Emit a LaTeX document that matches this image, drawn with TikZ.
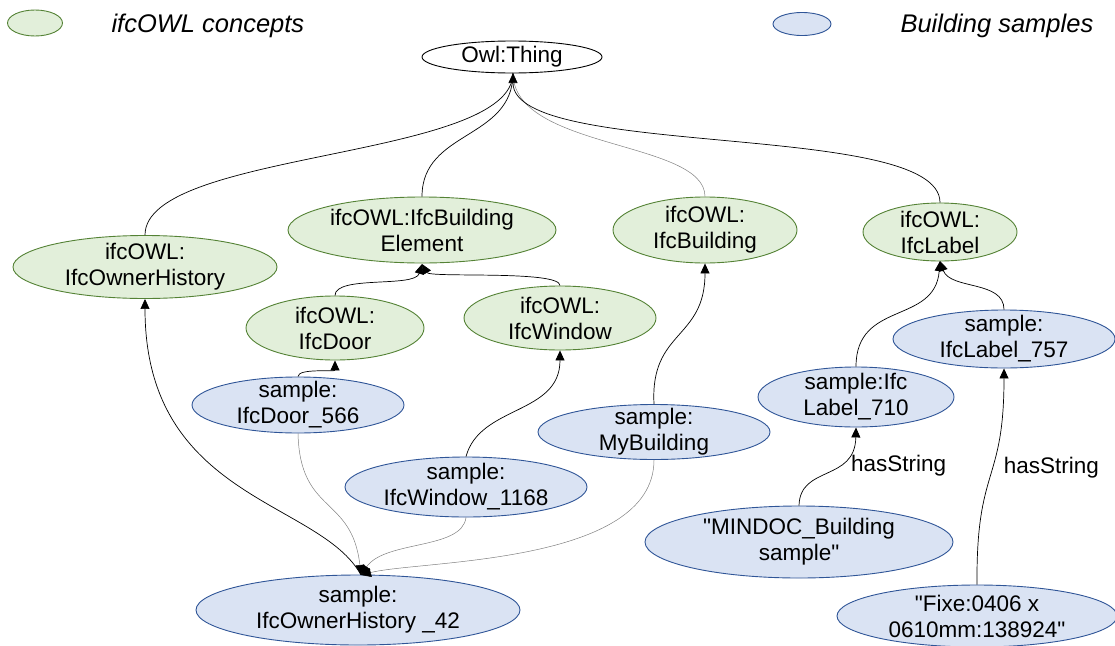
\documentclass[tikz,border=0pt]{standalone}
\usepackage{fontspec}
\setmainfont{Liberation Sans}
\newfontfamily\qfont{Liberation Sans}
\newcommand{\sq}{{\qfont"}}
\usetikzlibrary{shapes.geometric,arrows.meta}
\definecolor{gfill}{HTML}{E2EFDA}
\definecolor{gdraw}{HTML}{548235}
\definecolor{bfill}{HTML}{DAE3F3}
\definecolor{bdraw}{HTML}{2F5597}
\definecolor{glink}{HTML}{808080}
\tikzset{
  ell/.style={ellipse,inner sep=-12pt,align=center,font=\fontsize{22.5}{26}\selectfont,line width=0.9pt},
  concept/.style={ell,fill=gfill,draw=gdraw},
  samplenode/.style={ell,fill=bfill,draw=bdraw},
  rootnode/.style={ell,fill=white,draw=black},
  link/.style={line width=0.7pt,black},
  glinkst/.style={line width=0.5pt,glink},
  tip/.style={-{Triangle[length=10pt,width=9pt,color=black]}},
  lbl/.style={font=\fontsize{22.5}{26}\selectfont},
  legend/.style={font=\fontsize{25.5}{30}\selectfont\itshape,anchor=west},
}
\begin{document}
\begin{tikzpicture}[x=1pt,y=-1pt]
\useasboundingbox (0,0) rectangle (1115,645);
% legend
\node[concept,minimum width=55pt,minimum height=26pt] (lg) at (35,23) {};
\node[legend] (lgt) at (108,26) {ifcOWL concepts};
\node[samplenode,minimum width=58pt,minimum height=23pt] (lb) at (802,24) {};
\node[legend] (lbt) at (897,26) {Building samples};
% nodes
\node[rootnode,minimum width=180pt,minimum height=32pt] (thing) at (512,57) {Owl:Thing};
\node[concept,minimum width=264pt,minimum height=63pt] (oh) at (145,267) {ifcOWL:\\IfcOwnerHistory};
\node[concept,minimum width=268pt,minimum height=66pt] (be) at (422,230) {ifcOWL:IfcBuilding\\Element};
\node[concept,minimum width=184pt,minimum height=66pt] (bld) at (705,230) {ifcOWL:\\IfcBuilding};
\node[concept,minimum width=154pt,minimum height=58pt] (lab) at (940,232) {ifcOWL:\\IfcLabel};
\node[concept,minimum width=178pt,minimum height=64pt] (door) at (335,328) {ifcOWL:\\IfcDoor};
\node[concept,minimum width=192pt,minimum height=64pt] (win) at (560,318) {ifcOWL:\\IfcWindow};
\node[samplenode,minimum width=212pt,minimum height=56pt] (d566) at (298,405) {sample:\\IfcDoor\_566};
\node[samplenode,minimum width=242pt,minimum height=60pt] (w1168) at (466,487) {sample:\\IfcWindow\_1168};
\node[samplenode,minimum width=232pt,minimum height=55pt] (myb) at (654,432) {sample:\\MyBuilding};
\node[samplenode,minimum width=196pt,minimum height=60pt] (l710) at (856,397) {sample:Ifc\\Label\_710};
\node[samplenode,minimum width=222pt,minimum height=58pt] (l757) at (1004,339) {sample:\\IfcLabel\_757};
\node[samplenode,minimum width=308pt,minimum height=72pt] (mind) at (799,542) {\sq MINDOC\_Building\\sample\sq};
\node[samplenode,minimum width=280pt,minimum height=62pt] (fixe) at (977,616) {\sq Fixe:0406 x\\0610mm:138924\sq};
\node[samplenode,minimum width=324pt,minimum height=70pt] (oh42) at (358,610) {sample:\\IfcOwnerHistory \_42};
% anchors for converging arrows
\coordinate (thingin) at (513,73);
\coordinate (bein) at (422,264);
\coordinate (labin) at (940,261);
\coordinate (oh42in) at (361,575);
% edges to Owl:Thing
\draw[link] (oh.north) .. controls (145,150) and (513,160) .. (thingin);
\draw[link] (be.north) .. controls (422,130) and (513,140) .. (thingin);
\draw[glinkst] (bld.north) .. controls (705,140) and (513,150) .. (thingin);
\draw[link,tip] (lab.north) .. controls (940,120) and (513,160) .. (thingin);
% concepts
\draw[link,tip] (door.north) .. controls (335,275) and (415,288) .. (bein);
\draw[link,tip] (win.north) .. controls (560,270) and (430,278) .. (bein);
\draw[link,tip] (d566.north) .. controls (298,368) and (335,372) .. (door.south);
\draw[link,tip] (w1168.north) .. controls (480,405) and (560,415) .. (win.south);
\draw[link,tip] (myb.north) .. controls (650,330) and (705,340) .. (bld.south);
\draw[link,tip] (l710.north) .. controls (856,300) and (935,325) .. (labin);
\draw[link,tip] (l757.north) .. controls (1004,280) and (950,290) .. (labin);
\draw[link,tip] (mind.north) .. controls (800,465) and (855,482) .. node[lbl,pos=0.62,right=10pt] (hs1) {hasString} (l710.south);
\draw[link,tip] (fixe.north) .. controls (976,465) and (1004,485) .. node[lbl,pos=0.55,right=8pt] (hs2) {hasString} (l757.south);
% owner history
\draw[link,tip] (oh42in) .. controls (320,500) and (145,500) .. (oh.south);
\draw[glinkst,tip] (d566.south) .. controls (300,515) and (352,495) .. (oh42in);
\draw[glinkst,tip] (w1168.south) .. controls (462,550) and (385,540) .. (oh42in);
\draw[glinkst,tip] (myb.south) .. controls (654,565) and (420,560) .. (oh42in);
\end{tikzpicture}
\end{document}
